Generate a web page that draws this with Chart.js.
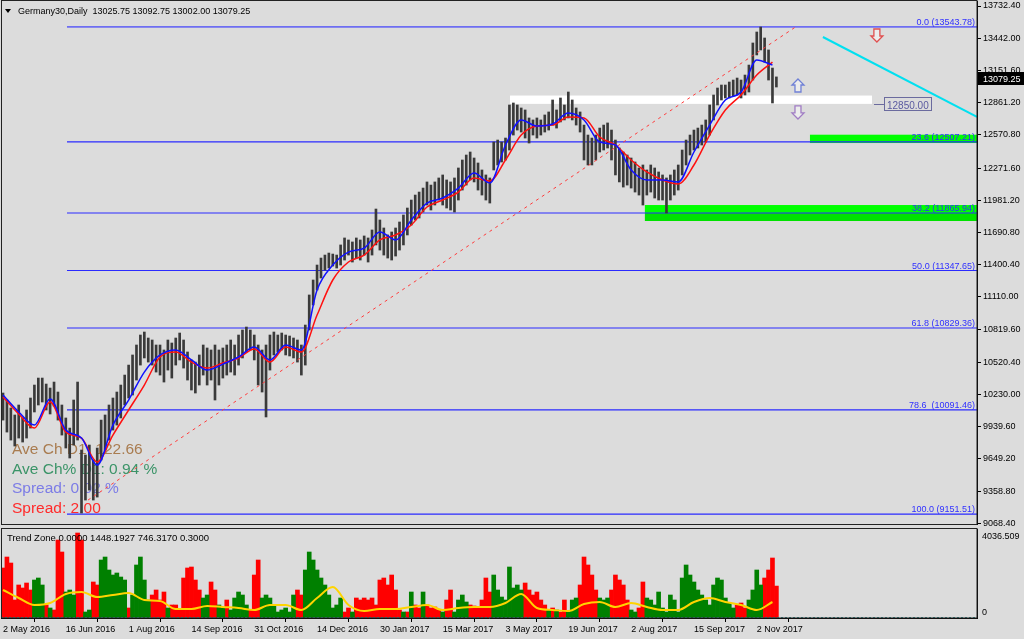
<!DOCTYPE html>
<html>
<head>
<meta charset="utf-8">
<title>Germany30, Daily</title>
<script src="https://cdn.jsdelivr.net/npm/chart.js@4.4.1/dist/chart.umd.min.js"></script>
<style>
  html, body { margin: 0; padding: 0; background: #dcdcdc; }
  #wrap { position: relative; width: 1024px; height: 639px; overflow: hidden; }
  canvas { position: absolute; left: 0; }
  #mainCanvas { top: 0; }
  #zoneCanvas { top: 526px; }
</style>
</head>
<body>
<div id="wrap">
  <canvas id="mainCanvas" width="1024" height="526"></canvas>
  <canvas id="zoneCanvas" width="1024" height="113"></canvas>
</div>
<script>
// ---- data ----
const headerText = "Germany30,Daily  13025.75 13092.75 13002.00 13079.25";
const lastClose = 13079.25;

const priceTicks = [13732.40, 13442.00, 13151.60, 12861.20, 12570.80, 12271.60, 11981.20,
  11690.80, 11400.40, 11110.00, 10819.60, 10520.40, 10230.00, 9939.60, 9649.20, 9358.80, 9068.40];

const dateLabels = ["2 May 2016", "16 Jun 2016", "1 Aug 2016", "14 Sep 2016", "31 Oct 2016",
  "14 Dec 2016", "30 Jan 2017", "15 Mar 2017", "3 May 2017", "19 Jun 2017", "2 Aug 2017",
  "15 Sep 2017", "2 Nov 2017"];
const barsPerLabel = 32;

// one sample every 2 daily bars
const barStep = 2;
const barHigh = [
  10243,10180,10108,10045,10135,10018,10090,10198,10315,10378,
  10378,10324,10288,10342,10252,10135,10018,9927,10180,10342,
  9729,9684,9774,9639,9747,9999,10045,10135,10198,10252,
  10315,10405,10495,10586,10676,10766,10793,10739,10721,10676,
  10676,10631,10721,10694,10739,10784,10721,10613,10541,10522,
  10586,10676,10649,10631,10676,10631,10649,10676,10721,10676,
  10766,10811,10838,10811,10766,10676,10631,10676,10766,10793,
  10766,10784,10766,10757,10739,10721,10676,10856,11127,11262,
  11397,11460,11487,11505,11496,11487,11578,11641,11623,11605,
  11641,11623,11659,11641,11713,11902,11803,11731,11668,11695,
  11731,11785,11848,11911,11983,12028,12055,12091,12146,12118,
  12146,12182,12209,12164,12146,12182,12272,12344,12389,12416,
  12362,12317,12254,12209,12182,12506,12524,12506,12542,12840,
  12858,12840,12813,12795,12723,12705,12723,12705,12750,12777,
  12885,12795,12903,12840,12957,12885,12813,12777,12659,12569,
  12542,12569,12632,12659,12678,12614,12524,12452,12416,12389,
  12362,12326,12272,12299,12254,12299,12272,12236,12209,12182,
  12209,12254,12299,12434,12524,12569,12614,12632,12659,12705,
  12840,12930,12993,13020,13020,13047,13065,13083,13065,13110,
  13200,13399,13498,13543,13444,13336,13173,13093
];
const barLow = [
  9999,9891,9819,9765,9837,9801,9837,9927,10072,10135,
  10162,10090,10054,10126,9999,9864,9747,9657,9774,9819,
  9161,9278,9368,9278,9305,9639,9729,9819,9909,9954,
  10018,10135,10198,10225,10360,10495,10559,10522,10495,10432,
  10405,10342,10450,10378,10495,10541,10468,10360,10270,10243,
  10315,10405,10315,10360,10180,10315,10378,10405,10432,10405,
  10495,10559,10613,10631,10541,10315,10252,10027,10450,10586,
  10613,10631,10586,10577,10559,10522,10405,10495,10811,11037,
  11172,11280,11352,11370,11388,11370,11397,11442,11487,11424,
  11460,11442,11487,11424,11487,11578,11532,11487,11460,11442,
  11478,11532,11578,11668,11758,11803,11821,11875,11938,11893,
  11938,11983,11938,11911,11893,11875,11983,12073,12118,12164,
  12146,12073,12028,11983,11956,12254,12299,12326,12344,12434,
  12569,12614,12596,12542,12497,12569,12542,12569,12596,12614,
  12659,12632,12687,12705,12723,12705,12659,12596,12344,12299,
  12299,12344,12416,12434,12452,12344,12209,12146,12100,12118,
  12091,12055,12028,11938,12028,12055,12001,11983,11983,11866,
  11983,12028,12073,12209,12299,12389,12434,12452,12479,12506,
  12569,12705,12840,12885,12903,12903,12921,12930,12903,12930,
  12957,13065,13291,13336,13227,13065,12858,13002
];

// moving averages, one sample every 8 bars
const maStep = 8;
const maFast = [10225,10072,9954,10189,9909,9837,9594,9954,10180,10432,
  10586,10631,10541,10450,10504,10568,10658,10541,10676,10631,
  11172,11397,11514,11550,11695,11623,11803,11956,12001,12091,
  12227,12137,12479,12705,12650,12668,12768,12705,12506,12479,
  12254,12164,12164,12146,12416,12659,12885,12957,13246,13200];
const maSlow = [10207,10054,9927,10162,9891,9837,9621,9864,10090,10315,
  10568,10613,10522,10468,10513,10559,10640,10522,10658,10613,
  10946,11262,11424,11487,11623,11668,11758,11920,11983,12055,
  12182,12155,12344,12569,12650,12659,12732,12723,12551,12479,
  12344,12236,12164,12128,12299,12569,12795,12930,13110,13227];

// Fibonacci levels
const fibText = ["0.0 (13543.78)", "23.6 (12507.21)", "38.2 (11865.94)", "50.0 (11347.65)",
  "61.8 (10829.36)", "78.6  (10091.46)", "100.0 (9151.51)"];
const fibPrice = [13543.78, 12507.21, 11865.94, 11347.65, 10829.36, 10091.46, 9151.51];
const fibStartBar = 32.6;

// drawn objects [bar, price]
const trendLine = [[43.3, 9278], [404.5, 13552]];
const cyanLine = [[417.7, 13453], [496.2, 12732]];
const levelBar = [258.3, 442.7];
const levelBand = [12850, 12925];
const levelText = "12850.00";
const supportBands = [
  [411.1, 12497, 12572],
  [327, 11866, 11938],
  [327, 11794, 11866]
];
const arrowMarks = [[445.2, 13471, "down"], [405, 13011, "up"], [405, 12777, "down"]];

const infoLines = ["Ave Ch D1: 122.66", "Ave Ch% D1: 0.94 %", "Spread: 0.02 %", "Spread: 2.00"];

// Trend Zone indicator
const zoneTitle = "Trend Zone 0.0000 1448.1927 746.3170 0.3000";
const zoneMax = 4036.509;
const zoneValue = [
  2268,2766,2494,816,1497,1361,1587,1270,1723,1814,
  1497,590,454,363,3537,2993,1179,1270,1043,3855,
  3537,272,363,1633,1497,2630,2766,2177,1950,2041,
  1859,1723,454,1043,2404,2766,1723,816,1043,1270,
  816,1179,454,590,590,363,1814,2268,2313,1723,
  1270,907,1043,1633,1270,590,454,816,363,907,
  1179,1043,590,363,1950,2630,907,1043,907,590,
  272,363,454,272,1043,1270,1043,2177,2993,2630,
  2177,1814,1497,1043,454,590,907,272,454,272,
  907,816,907,816,907,590,1723,1814,1497,1950,
  1270,363,272,272,1179,590,454,1179,590,454,
  499,363,272,816,1270,272,816,1043,726,590,
  544,454,816,1814,1179,1950,1270,952,816,2313,
  1361,1497,1270,1587,1270,1043,1179,816,590,363,
  454,363,272,816,272,816,907,1497,2766,2404,
  1950,1270,907,816,907,1270,1950,1723,1497,816,
  363,272,454,1633,907,816,590,1179,454,272,
  1043,816,272,1814,2404,1950,1633,1270,1043,816,
  590,1497,1814,1723,907,680,454,590,680,454,
  816,1270,2177,1497,1814,2177,2721,1448
];
const zoneSide =
  "rrrrrrrrgg" + "grgrrrgggr" + "rggrrggggg" + "ggrgggggrr" + "rrgrrrrrrr" +
  "rggrrggrgg" + "gggrrrgggg" + "gggggrrggg" + "gggggggrrg" + "rrrrrrrrrr" +
  "rrgrgrrgrr" + "rrgrrggggr" + "rrrrrggggg" + "gggrrrrrrg" + "rgrrgggrrr" +
  "rrgggrrrrr" + "ggrrgggggg" + "gggggggggg" + "gggggggrrr" + "ggggrrrr";
const zoneSignal = [1270,907,590,680,1088,1179,952,1043,1134,816,
  771,408,408,544,499,454,363,590,590,363,
  907,1406,590,317,408,408,499,590,363,454,
  499,499,680,1088,454,363,317,635,726,499,
  680,499,363,363,726,907,726,590,363,726];

// ---- layout ----
const X_MIN = -1.019;
const X_MAX = 496.2;
const FONT = '"Liberation Sans", Arial, sans-serif';
const smallFont = { family: FONT, size: 9 };

function pt(bar, price) {
  return { x: bar, y: price };
}

function hollowArrow(ctx, cx, cy, up, stroke) {
  const s = up ? -1 : 1;
  ctx.beginPath();
  ctx.moveTo(cx, cy + 7 * s);
  ctx.lineTo(cx + 6, cy + s);
  ctx.lineTo(cx + 3, cy + s);
  ctx.lineTo(cx + 3, cy - 6 * s);
  ctx.lineTo(cx - 3, cy - 6 * s);
  ctx.lineTo(cx - 3, cy + s);
  ctx.lineTo(cx - 6, cy + s);
  ctx.closePath();
  ctx.fillStyle = "rgba(255,255,255,0.45)";
  ctx.fill();
  ctx.lineWidth = 1.3;
  ctx.strokeStyle = stroke;
  ctx.stroke();
}

// Price chart overlays
const mainOverlay = {
  id: "mainOverlay",
  beforeDatasetsDraw(chart) {
    const { ctx, chartArea } = chart;
    const { x, y } = chart.scales;
    ctx.save();

    // white level band
    const wx0 = x.getPixelForValue(levelBar[0]);
    const wx1 = x.getPixelForValue(levelBar[1]);
    const wy0 = y.getPixelForValue(levelBand[1]);
    const wy1 = y.getPixelForValue(levelBand[0]);
    ctx.fillStyle = "#ffffff";
    ctx.fillRect(wx0, wy0, wx1 - wx0, wy1 - wy0);

    // green support bands
    const greens = ["#00ff00", "#00ff00", "#00e200"];
    supportBands.forEach((b, i) => {
      const bx = x.getPixelForValue(b[0]);
      const top = y.getPixelForValue(b[2]);
      const bot = y.getPixelForValue(b[1]);
      ctx.fillStyle = greens[i];
      ctx.fillRect(bx, top, chartArea.right - bx, bot - top);
    });

    // info text (sits behind the bars)
    const infoColors = ["#a97c50", "#3b9468", "#7c7ce6", "#ff2b2b"];
    ctx.font = "15.5px " + FONT;
    ctx.textAlign = "left";
    ctx.textBaseline = "alphabetic";
    infoLines.forEach((t, i) => {
      ctx.fillStyle = infoColors[i];
      ctx.fillText(t, 12, 454 + i * 19.7);
    });
    ctx.restore();
  },
  afterDraw(chart) {
    const { ctx, chartArea } = chart;
    const { x, y } = chart.scales;
    ctx.save();

    // fib labels
    ctx.font = "9px " + FONT;
    ctx.fillStyle = "#2f2fff";
    ctx.textAlign = "right";
    ctx.textBaseline = "alphabetic";
    fibText.forEach((t, i) => {
      ctx.fillText(t, chartArea.right - 2, y.getPixelForValue(fibPrice[i]) - 2);
    });

    // 12850 label box
    const ly = Math.round(y.getPixelForValue(levelBand[0])) + 0.5;
    const lx = x.getPixelForValue(levelBar[1]);
    ctx.strokeStyle = "#6b6b9e";
    ctx.lineWidth = 1;
    ctx.beginPath();
    ctx.moveTo(lx + 2, ly);
    ctx.lineTo(lx + 12, ly);
    ctx.stroke();
    ctx.strokeRect(Math.round(lx) + 12.5, ly - 7, 47, 13);
    ctx.font = "10px " + FONT;
    ctx.fillStyle = "#5a5aa0";
    ctx.textAlign = "left";
    ctx.fillText(levelText, lx + 15, ly + 4);

    // arrows
    const arrowColors = ["#e05050", "#6f80d6", "#a07cc4"];
    arrowMarks.forEach((a, i) => {
      hollowArrow(ctx, x.getPixelForValue(a[0]), y.getPixelForValue(a[1]), a[2] === "up", arrowColors[i]);
    });

    // header
    ctx.fillStyle = "#000";
    ctx.beginPath();
    ctx.moveTo(5, 9);
    ctx.lineTo(11, 9);
    ctx.lineTo(8, 13);
    ctx.closePath();
    ctx.fill();
    ctx.font = "9px " + FONT;
    ctx.fillText(headerText, 18, 14);

    // current price box
    const cy = y.getPixelForValue(lastClose);
    ctx.fillStyle = "#000";
    ctx.fillRect(chartArea.right, Math.round(cy) - 6, 47, 13);
    ctx.fillStyle = "#fff";
    ctx.font = "9px " + FONT;
    ctx.fillText(lastClose.toFixed(2), chartArea.right + 6, Math.round(cy) + 4);

    // panel frame
    ctx.strokeStyle = "#222";
    ctx.lineWidth = 1;
    ctx.strokeRect(1.5, 0.5, chartArea.right - 1.5, chartArea.bottom);
    ctx.restore();
  }
};

const zoneOverlay = {
  id: "zoneOverlay",
  afterDraw(chart) {
    const { ctx, chartArea } = chart;
    const { y } = chart.scales;
    ctx.save();
    const y0 = Math.round(y.getPixelForValue(0)) + 0.5;
    ctx.setLineDash([2, 2]);
    ctx.strokeStyle = "#3a8f8f";
    ctx.beginPath();
    ctx.moveTo(chartArea.left, y0 - 1);
    ctx.lineTo(chartArea.right, y0 - 1);
    ctx.stroke();
    ctx.setLineDash([]);

    ctx.fillStyle = "#000";
    ctx.font = "9.5px " + FONT;
    ctx.textAlign = "left";
    ctx.fillText(zoneTitle, 7, 15);
    ctx.font = "9px " + FONT;
    ctx.fillText(zoneMax.toFixed(3), chartArea.right + 5, 13);
    ctx.fillText("0", chartArea.right + 5, 89);

    ctx.strokeStyle = "#222";
    ctx.strokeRect(1.5, chartArea.top - 0.5, chartArea.right - 1.5, chartArea.bottom - chartArea.top + 0.5);
    ctx.restore();
  }
};

// ---- price chart ----
const priceBars = barHigh.map((h, k) => ({ x: k * barStep, y: [barLow[k], h] }));

const fibSets = fibPrice.map((p, i) => ({
  type: "line",
  data: [pt(fibStartBar, p), pt(X_MAX, p)],
  borderColor: i === 0 ? "#6e6ef2" : "#2a2aff",
  borderWidth: i === 0 ? 1.6 : 1.2,
  pointRadius: 0,
  order: 10
}));

new Chart(document.getElementById("mainCanvas"), {
  type: "bar",
  data: {
    datasets: [
      {
        type: "bar",
        data: priceBars,
        backgroundColor: "#3a3a3a",
        barThickness: 2,
        order: 5
      },
      {
        type: "line",
        data: maSlow.map((v, j) => pt(j * maStep, v)),
        borderColor: "#ff1010",
        borderWidth: 1.5,
        pointRadius: 0,
        cubicInterpolationMode: "monotone",
        order: 3
      },
      {
        type: "line",
        data: maFast.map((v, j) => pt(j * maStep, v)),
        borderColor: "#1010ff",
        borderWidth: 1.5,
        pointRadius: 0,
        cubicInterpolationMode: "monotone",
        order: 2
      },
      {
        type: "line",
        data: trendLine.map((p) => pt(p[0], p[1])),
        borderColor: "#ff3c3c",
        borderWidth: 1,
        borderDash: [3, 4],
        pointRadius: 0,
        order: 4
      },
      {
        type: "line",
        data: cyanLine.map((p) => pt(p[0], p[1])),
        borderColor: "#00e0f0",
        borderWidth: 2,
        pointRadius: 0,
        order: 1
      },
      ...fibSets
    ]
  },
  options: {
    animation: false,
    responsive: false,
    devicePixelRatio: 1,
    events: [],
    layout: { padding: { left: 1, top: 1, right: 0, bottom: 2 } },
    scales: {
      x: { type: "linear", display: false, min: X_MIN, max: X_MAX, offset: false },
      y: {
        position: "right",
        min: 9062.1,
        max: 13777.5,
        afterFit: (s) => {
          s.width = 47;
          s.paddingTop = 0;
          s.paddingBottom = 0;
        },
        afterBuildTicks: (s) => { s.ticks = priceTicks.map((v) => ({ value: v })); },
        ticks: {
          autoSkip: false,
          font: smallFont,
          color: "#000",
          padding: 2,
          callback: (v) => Number(v).toFixed(2)
        },
        grid: { drawOnChartArea: false, tickLength: 4, tickColor: "#000" },
        border: { color: "#000" }
      }
    },
    plugins: { legend: { display: false }, tooltip: { enabled: false } }
  },
  plugins: [mainOverlay]
});

// ---- Trend Zone panel ----
const zoneUp = [];
const zoneDown = [];
zoneValue.forEach((v, k) => {
  const item = { x: k * barStep, y: v };
  if (zoneSide[k] === "g") zoneUp.push(item);
  else zoneDown.push(item);
});

new Chart(document.getElementById("zoneCanvas"), {
  type: "bar",
  data: {
    datasets: [
      {
        type: "line",
        data: zoneSignal.map((v, j) => pt(j * maStep, v)),
        borderColor: "#ffd400",
        borderWidth: 2,
        pointRadius: 0,
        cubicInterpolationMode: "monotone",
        order: 1
      },
      { data: zoneUp, backgroundColor: "#008000", barThickness: 4, grouped: false, order: 2 },
      { data: zoneDown, backgroundColor: "#ff0000", barThickness: 4, grouped: false, order: 2 }
    ]
  },
  options: {
    animation: false,
    responsive: false,
    devicePixelRatio: 1,
    events: [],
    layout: { padding: { left: 1, top: 3, right: 0, bottom: 0 } },
    scales: {
      x: {
        type: "linear",
        min: X_MIN,
        max: X_MAX,
        offset: false,
        afterFit: (s) => {
          s.height = 21;
          s.paddingLeft = 0;
          s.paddingRight = 0;
        },
        afterBuildTicks: (s) => { s.ticks = dateLabels.map((d, i) => ({ value: i * barsPerLabel })); },
        ticks: {
          autoSkip: false,
          maxRotation: 0,
          align: "start",
          padding: 2,
          font: smallFont,
          color: "#000",
          callback: (v, i) => dateLabels[i]
        },
        grid: { drawOnChartArea: false, tickLength: 4, tickColor: "#000" },
        border: { color: "#000" }
      },
      y: {
        position: "right",
        min: 0,
        max: zoneMax,
        afterFit: (s) => {
          s.width = 47;
          s.paddingTop = 0;
          s.paddingBottom = 0;
        },
        ticks: { display: false },
        grid: { drawOnChartArea: false, drawTicks: false },
        border: { color: "#000" }
      }
    },
    plugins: { legend: { display: false }, tooltip: { enabled: false } }
  },
  plugins: [zoneOverlay]
});
</script>
</body>
</html>
